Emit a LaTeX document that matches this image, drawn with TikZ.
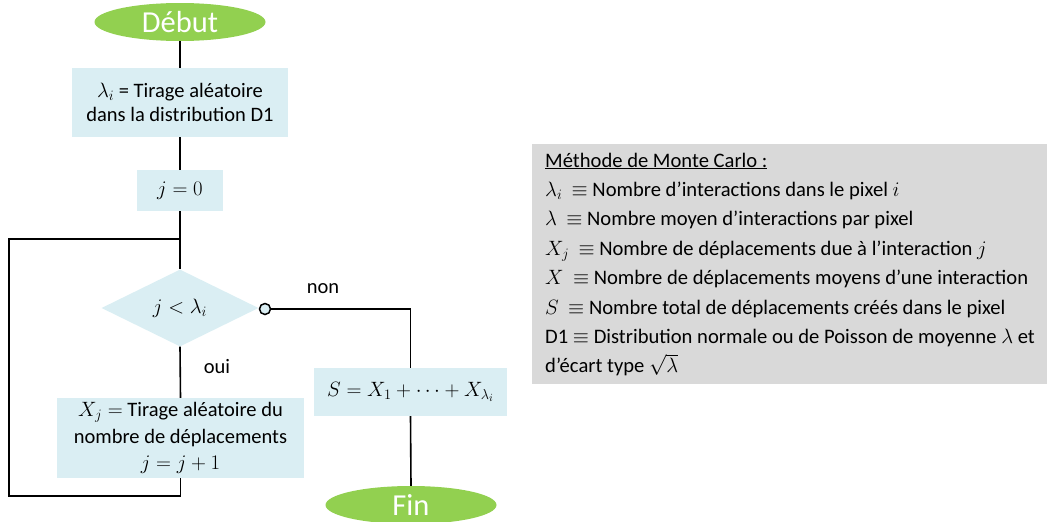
\documentclass[tikz,border=0pt]{standalone}
\usepackage{fontspec}
\setmainfont{Carlito}
\usetikzlibrary{shapes.geometric}
\definecolor{vert}{HTML}{92D050}
\definecolor{bleu}{HTML}{DAEEF3}
\definecolor{gris}{HTML}{D9D9D9}
\newcommand\mth[1]{{\fontsize{21.5}{24}\selectfont$#1$}}
\tikzset{
  terminal/.style={ellipse, fill=vert, text=white, minimum width=171pt, minimum height=38pt, inner sep=0pt, font=\fontsize{30.5}{32}\selectfont},
  procbox/.style={rectangle, fill=bleu, inner sep=0pt, align=center, font=\fontsize{20.5}{24}\selectfont},
  decision/.style={diamond, fill=bleu, aspect=2, inner sep=0pt, minimum width=157pt, minimum height=77pt, font=\fontsize{20.5}{24}\selectfont},
  link/.style={draw=black, line width=1.6pt},
  lbl/.style={font=\fontsize{20.5}{22}\selectfont, inner sep=0pt},
  leg/.style={font=\fontsize{20.6}{24}\selectfont, inner sep=0pt, anchor=base west}
}
\begin{document}
\begin{tikzpicture}[x=1pt,y=-1pt]
\useasboundingbox (0,0) rectangle (1047,522);
\begin{scope}
\clip (0,0) rectangle (1047,522);
% nodes
\node[terminal] (debut) at (180,22) {Début};
\node[procbox, minimum width=216pt, minimum height=69pt] (b1) at (180,102.5) {\mth{\lambda_i} = Tirage aléatoire\\dans la distribution D1};
\node[procbox, minimum width=86pt, minimum height=41pt] (b2) at (180,190.5) {\mth{j=0}};
\node[decision] (dia) at (180,308) {\mth{j<\lambda_i}};
\node[circle, draw=black, line width=1.5pt, fill=bleu, minimum size=11pt, inner sep=0pt] (circ) at (265,309) {};
\node[procbox, minimum width=247pt, minimum height=80pt, font=\fontsize{20.5}{26.5}\selectfont] (b3) at (180.5,438) {\mth{X_j=} Tirage aléatoire du\\nombre de déplacements\\\mth{j=j+1}};
\node[procbox, minimum width=193pt, minimum height=48pt] (sb) at (410.5,392) {\mth{S=X_1+\cdots+X_{\lambda_i}}};
\node[terminal] (fin) at (411,505) {Fin};
\node[lbl] (non) at (323,289) {non};
\node[lbl] (oui) at (217,367) {oui};
\coordinate (lt) at (9,239);
\coordinate (lb) at (9,496);
% connectors
\draw[link] (debut.south) -- (b1.north);
\draw[link] (b1.south) -- (b2.north);
\draw[link] (b2.south) -- (dia.north);
\draw[link] (dia.south) -- (b3.north);
\draw[link] (b3.south) |- (lb) -- (lt) -- (lt -| dia.north);
\draw[link] (circ.east) -| (sb.north);
\draw[link] (sb.south) -- (fin.north);
% legend
\node[fill=gris, minimum width=520pt, minimum height=240pt, anchor=north west, inner sep=0pt] (legbox) at (532,144) {};
\node[leg] (l0) at (545,167) {\underline{Méthode de Monte Carlo :}};
\node[leg] (l1) at (545,196.4) {\mth{\lambda_i}\ \ $\equiv$ Nombre d’interactions dans le pixel \mth{i}};
\node[leg] (l2) at (545,225.8) {\mth{\lambda}\ \ $\equiv$ Nombre moyen d’interactions par pixel};
\node[leg] (l3) at (545,255.2) {\mth{X_j}\ \ $\equiv$ Nombre de déplacements due à l’interaction \mth{j}};
\node[leg] (l4) at (545,284.6) {\mth{X}\ \ $\equiv$ Nombre de déplacements moyens d’une interaction};
\node[leg] (l5) at (545,314) {\mth{S}\ \ $\equiv$ Nombre total de déplacements créés dans le pixel};
\node[leg] (l6) at (545,343.4) {D1 $\equiv$ Distribution normale ou de Poisson de moyenne \mth{\lambda} et};
\node[leg] (l7) at (545,372.8) {d’écart type {\fontsize{20.6}{24}\selectfont$\sqrt{\lambda}$}};
\end{scope}
\end{tikzpicture}
\end{document}
